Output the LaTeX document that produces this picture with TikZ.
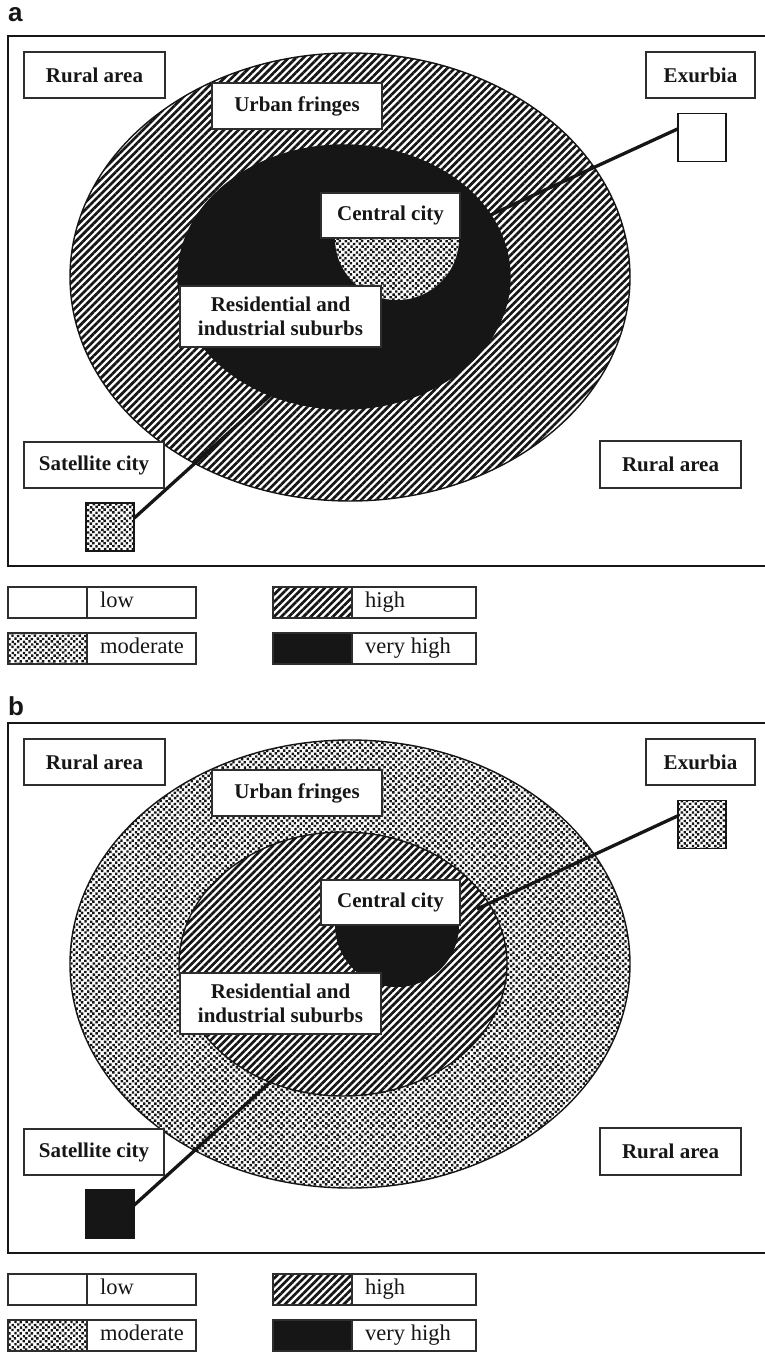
\documentclass[tikz,border=0pt]{standalone}
\usepackage{fontspec}
\setmainfont{Liberation Serif}
\newfontfamily\panelfont{Liberation Sans}
\usetikzlibrary{patterns,patterns.meta}

% jittered checker of small squares for the "moderate" class
\pgfdeclarepatternformonly{speckle}{\pgfqpoint{-1pt}{-1pt}}{\pgfqpoint{12.2pt}{12.2pt}}{\pgfqpoint{11.2pt}{11.2pt}}{%
  \pgfpathrectangle{\pgfqpoint{0.1pt}{0.35pt}}{\pgfqpoint{2.4pt}{2.4pt}}%
  \pgfpathrectangle{\pgfqpoint{5.7pt}{0.0pt}}{\pgfqpoint{2.4pt}{2.4pt}}%
  \pgfpathrectangle{\pgfqpoint{2.55pt}{3.15pt}}{\pgfqpoint{2.4pt}{2.4pt}}%
  \pgfpathrectangle{\pgfqpoint{8.6pt}{2.7pt}}{\pgfqpoint{2.4pt}{2.4pt}}%
  \pgfpathrectangle{\pgfqpoint{0.35pt}{5.35pt}}{\pgfqpoint{2.4pt}{2.4pt}}%
  \pgfpathrectangle{\pgfqpoint{5.85pt}{5.85pt}}{\pgfqpoint{2.4pt}{2.4pt}}%
  \pgfpathrectangle{\pgfqpoint{3.05pt}{8.5pt}}{\pgfqpoint{2.4pt}{2.4pt}}%
  \pgfpathrectangle{\pgfqpoint{8.3pt}{8.15pt}}{\pgfqpoint{2.4pt}{2.4pt}}%
  \pgfusepath{fill}}

\definecolor{ink}{HTML}{161616}
\definecolor{edge}{HTML}{2E2E2E}

\newcommand{\zonefont}{\bfseries\fontsize{21}{24}\selectfont}
\newcommand{\lgndfont}{\fontsize{22.5}{24}\selectfont}

\tikzset{
  hatch/.style={pattern={Lines[angle=45,distance=5.2pt,line width=2.7pt]}, pattern color=ink},
  speck/.style={pattern=speckle, pattern color=ink},
  frame/.style={draw=ink, line width=2pt},
  zone/.style={draw=ink, line width=1.4pt},
  tag/.style={font=\panelfont\bfseries\fontsize{26}{26}\selectfont, text=ink, anchor=base west, inner sep=0pt},
  zonebox/.style={draw=edge, line width=1.3pt, fill=white, inner sep=0pt, outer sep=0pt,
    font=\zonefont, text=ink, align=center},
  sq/.style={draw=ink, line width=1.6pt, minimum size=48pt, inner sep=0pt, outer sep=0pt},
  link/.style={draw=ink, line width=3.3pt},
  swatch/.style={draw=edge, line width=1.2pt, minimum width=79pt, minimum height=31pt,
    inner sep=0pt, outer sep=0pt},
  cell/.style={draw=edge, line width=1.2pt, minimum width=#1, minimum height=31pt,
    inner sep=0pt, outer sep=0pt, anchor=west},
  legword/.style={font=\lgndfont, text=ink, inner sep=0pt, anchor=base west}
}

\begin{document}
\begin{tikzpicture}[x=1pt,y=-1pt]
\useasboundingbox (0,0) rectangle (765,1354);
\fill[white] (0,0) rectangle (765,1354);

% ---------------- panel a ----------------
\node[tag] (tagA) at (8,22) {a};
\draw[frame] (8,36) rectangle (772,566);

\path[zone, preaction={fill=white}, hatch] (350,277) ellipse [x radius=280pt, y radius=224pt];
\path[zone, fill=ink] (344,277) ellipse [x radius=166pt, y radius=132pt];
\begin{scope}
  \clip (320,238) rectangle (480,320);
  \path[preaction={fill=white}, speck] (397,238) circle [radius=62pt];
\end{scope}

\node[zonebox, minimum width=141pt, minimum height=46pt] (ruralA) at (94.5,75) {Rural area};
\node[zonebox, minimum width=170pt, minimum height=46pt] (fringeA) at (297,106) {Urban fringes};
\node[zonebox, minimum width=109pt, minimum height=46pt] (exurbA) at (700.5,75) {Exurbia};
\node[zonebox, minimum width=139pt, minimum height=45pt] (centreA) at (390.5,215.5) {Central city};
\node[zonebox, minimum width=201pt, minimum height=61pt] (suburbA) at (280.5,316.5) {Residential and\\industrial suburbs};
\node[zonebox, minimum width=140pt, minimum height=46pt] (satA) at (94,465) {Satellite city};
\node[zonebox, minimum width=141pt, minimum height=47pt] (rural2A) at (670.5,464.5) {Rural area};

\node[sq, fill=white] (exsqA) at (702,137.5) {};
\node[sq, preaction={fill=white}, speck] (satsqA) at (110,527) {};

\coordinate (exendA) at (484,218);
\coordinate (satendA) at (287,380);
\draw[link] (exsqA.160) -- (exendA);
\draw[link] (satsqA.20) -- (satendA);

% legend a
\node[swatch] (lowA) at (47.5,602.5) {};
\node[cell=109pt] (lowAc) at (lowA.east) {};
\node[legword] (lowAt) at ([xshift=13pt,yshift=-5pt]lowAc.west) {low};
\node[swatch, speck] (modA) at (47.5,648.5) {};
\node[cell=109pt] (modAc) at (modA.east) {};
\node[legword] (modAt) at ([xshift=13pt,yshift=-5pt]modAc.west) {moderate};
\node[swatch, hatch] (highA) at (312.5,602.5) {};
\node[cell=124pt] (highAc) at (highA.east) {};
\node[legword] (highAt) at ([xshift=13pt,yshift=-5pt]highAc.west) {high};
\node[swatch, fill=ink] (vhighA) at (312.5,648.5) {};
\node[cell=124pt] (vhighAc) at (vhighA.east) {};
\node[legword] (vhighAt) at ([xshift=13pt,yshift=-5pt]vhighAc.west) {very high};

% ---------------- panel b ----------------
\begin{scope}[shift={(0,687)}]
\node[tag] (tagB) at (8,28) {b};
\draw[frame] (8,36) rectangle (772,566);

\path[zone, preaction={fill=white}, speck] (350,277) ellipse [x radius=280pt, y radius=224pt];
\path[zone, preaction={fill=white}, hatch] (343,277) ellipse [x radius=164pt, y radius=132pt];
\begin{scope}
  \clip (320,238) rectangle (480,320);
  \fill[ink] (397,238) circle [radius=62pt];
\end{scope}

\node[zonebox, minimum width=141pt, minimum height=46pt] (ruralB) at (94.5,75) {Rural area};
\node[zonebox, minimum width=170pt, minimum height=46pt] (fringeB) at (297,106) {Urban fringes};
\node[zonebox, minimum width=109pt, minimum height=46pt] (exurbB) at (700.5,75) {Exurbia};
\node[zonebox, minimum width=139pt, minimum height=45pt] (centreB) at (390.5,215.5) {Central city};
\node[zonebox, minimum width=201pt, minimum height=61pt] (suburbB) at (280.5,316.5) {Residential and\\industrial suburbs};
\node[zonebox, minimum width=140pt, minimum height=46pt] (satB) at (94,465) {Satellite city};
\node[zonebox, minimum width=141pt, minimum height=47pt] (rural2B) at (670.5,464.5) {Rural area};

\node[sq, preaction={fill=white}, speck] (exsqB) at (702,137.5) {};
\node[sq, fill=ink] (satsqB) at (110,527) {};

\coordinate (exendB) at (477,222);
\coordinate (satendB) at (287,380);
\draw[link] (exsqB.160) -- (exendB);
\draw[link] (satsqB.20) -- (satendB);

% legend b
\node[swatch] (lowB) at (47.5,602.5) {};
\node[cell=109pt] (lowBc) at (lowB.east) {};
\node[legword] (lowBt) at ([xshift=13pt,yshift=-5pt]lowBc.west) {low};
\node[swatch, speck] (modB) at (47.5,648.5) {};
\node[cell=109pt] (modBc) at (modB.east) {};
\node[legword] (modBt) at ([xshift=13pt,yshift=-5pt]modBc.west) {moderate};
\node[swatch, hatch] (highB) at (312.5,602.5) {};
\node[cell=124pt] (highBc) at (highB.east) {};
\node[legword] (highBt) at ([xshift=13pt,yshift=-5pt]highBc.west) {high};
\node[swatch, fill=ink] (vhighB) at (312.5,648.5) {};
\node[cell=124pt] (vhighBc) at (vhighB.east) {};
\node[legword] (vhighBt) at ([xshift=13pt,yshift=-5pt]vhighBc.west) {very high};
\end{scope}
\end{tikzpicture}
\end{document}
